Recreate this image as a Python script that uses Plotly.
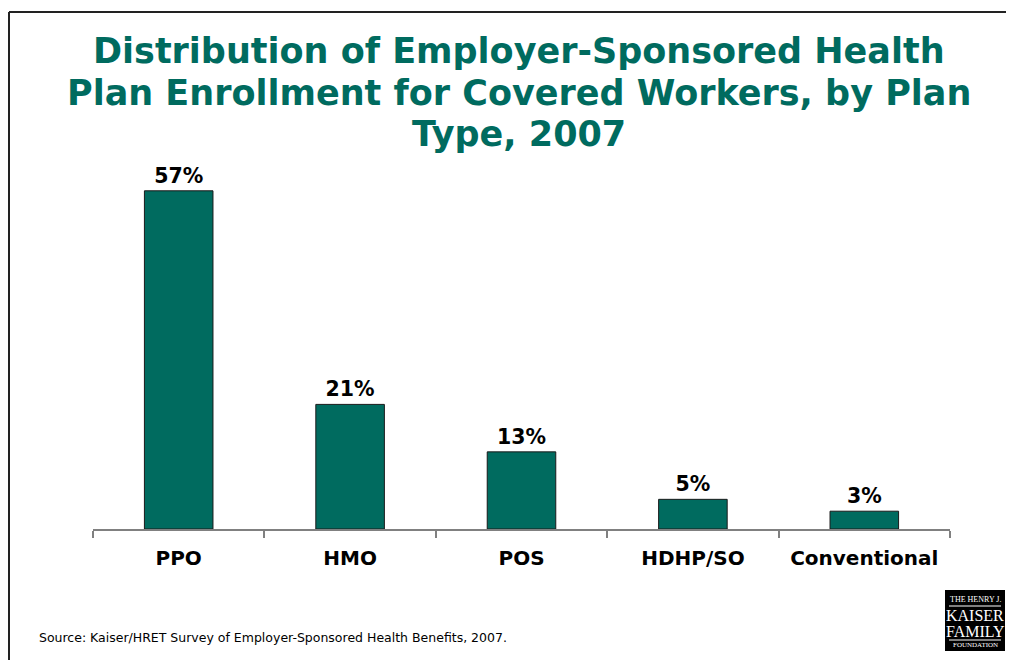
import plotly.graph_objects as go

categories = ["PPO", "HMO", "POS", "HDHP/SO", "Conventional"]
values = [57, 21, 13, 5, 3]
labels = [f"{v}%" for v in values]

title_lines = ["Distribution of Employer-Sponsored Health",
               "Plan Enrollment for Covered Workers, by Plan",
               "Type, 2007"]
source_text = "Source: Kaiser/HRET Survey of Employer-Sponsored Health Benefits, 2007."

TEAL = "#006B5F"
OFF = 8  # page body margin
W, H = 1014 - OFF, 660 - OFF
L, R, T, B = 93 - OFF, 64, 173 - OFF, 131
PW, PH = W - L - R, H - T - B


def px(x):
    # page pixel x -> paper
    return (x - OFF - L) / PW


def py(y):
    # page pixel y -> paper
    return (H - B - (y - OFF)) / PH


fig = go.Figure()
fig.add_trace(go.Bar(
    x=categories, y=values, text=labels, textposition="outside",
    textfont=dict(family="DejaVu Sans", size=20.5, color="black", weight="bold"),
    marker=dict(color=TEAL, line=dict(color="#1a1a1a", width=1)),
    width=0.40, cliponaxis=False, hoverinfo="skip",
))

shapes = [
    dict(type="line", xref="paper", yref="paper", x0=px(9), y0=py(12), x1=px(1030), y1=py(12),
         line=dict(color="#222222", width=2)),
    dict(type="line", xref="paper", yref="paper", x0=px(9), y0=py(12), x1=px(9), y1=py(680),
         line=dict(color="#222222", width=2)),
    dict(type="rect", xref="paper", yref="paper", x0=px(945), y0=py(590), x1=px(1005), y1=py(651),
         fillcolor="black", line=dict(width=0)),
    dict(type="line", xref="paper", yref="paper", x0=px(949), y0=py(606), x1=px(1001), y1=py(606),
         line=dict(color="white", width=1)),
    dict(type="line", xref="paper", yref="paper", x0=px(949), y0=py(640), x1=px(1001), y1=py(640),
         line=dict(color="white", width=1)),
]

title_y = [51, 93, 134]
annotations = [
    dict(text=line, xref="paper", yref="paper", x=px(519), y=py(yy),
         xanchor="center", yanchor="middle", showarrow=False,
         font=dict(family="DejaVu Sans", size=35, color=TEAL, weight="bold"))
    for line, yy in zip(title_lines, title_y)
]

annotations += [
    dict(text=source_text, xref="paper", yref="paper", x=px(37), y=py(637),
         xanchor="left", yanchor="middle", showarrow=False,
         font=dict(family="DejaVu Sans", size=12.5, color="black")),
    dict(text="THE HENRY J.", xref="paper", yref="paper", x=px(975), y=py(599),
         xanchor="center", yanchor="middle", showarrow=False,
         font=dict(family="Liberation Serif", size=8, color="white")),
    dict(text="KAISER", xref="paper", yref="paper", x=px(975), y=py(615),
         xanchor="center", yanchor="middle", showarrow=False,
         font=dict(family="Liberation Serif", size=16, color="white")),
    dict(text="FAMILY", xref="paper", yref="paper", x=px(975), y=py(631),
         xanchor="center", yanchor="middle", showarrow=False,
         font=dict(family="Liberation Serif", size=16, color="white")),
    dict(text="FOUNDATION", xref="paper", yref="paper", x=px(975), y=py(645),
         xanchor="center", yanchor="middle", showarrow=False,
         font=dict(family="Liberation Serif", size=7, color="white")),
]

fig.update_layout(
    width=W, height=H,
    margin=dict(l=L, r=R, t=T, b=B),
    paper_bgcolor="white", plot_bgcolor="white",
    showlegend=False,
    xaxis=dict(
        type="category", range=[-0.5, 4.5], showline=True, linecolor="#808080", linewidth=1.5,
        ticks="outside", tickson="boundaries", ticklen=7, tickcolor="#808080", tickwidth=1.5,
        ticklabelstandoff=10,
        tickfont=dict(family="DejaVu Sans", size=20, color="black", weight="bold"),
        showgrid=False, zeroline=False,
    ),
    yaxis=dict(range=[0, 60], visible=False, showgrid=False, zeroline=False),
    shapes=shapes, annotations=annotations,
)

fig.write_html("out.html")
